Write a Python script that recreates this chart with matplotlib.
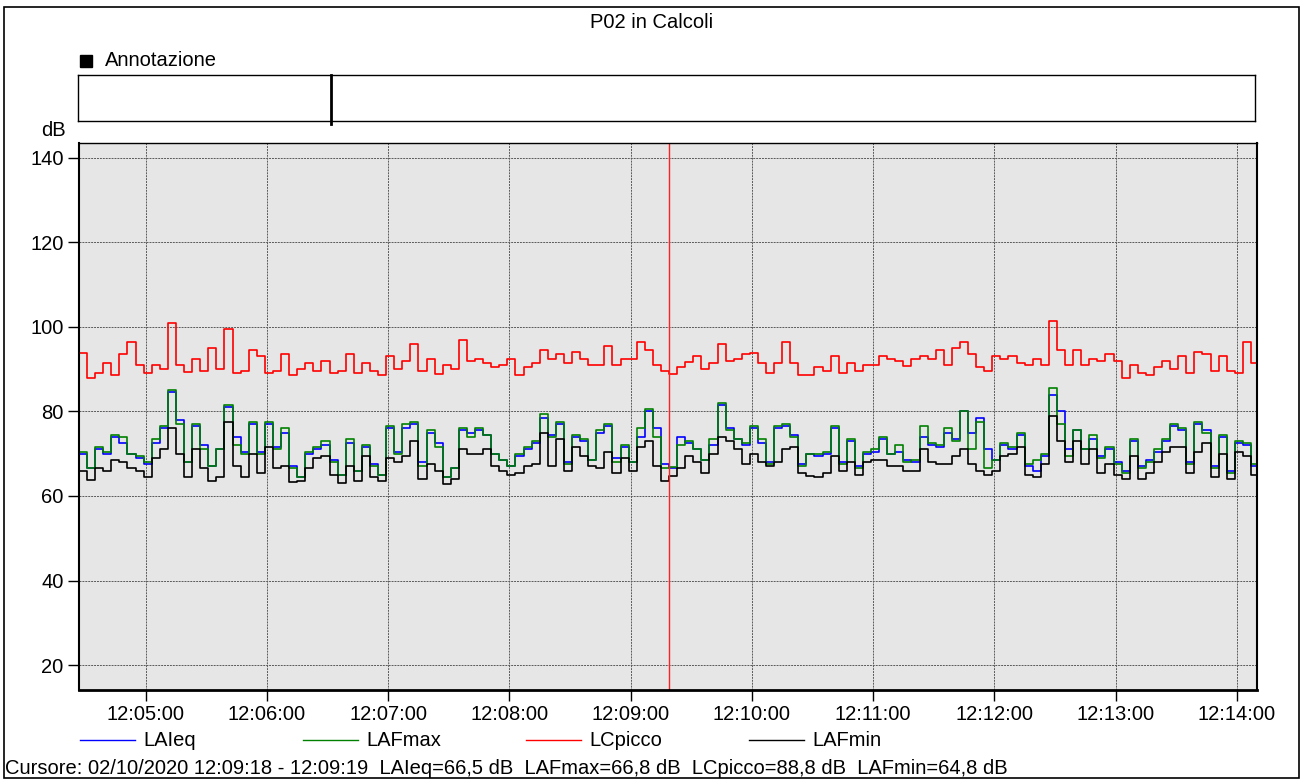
import numpy as np
import matplotlib
matplotlib.use('Agg')
from matplotlib import pyplot as plt
import matplotlib.dates as mdates
from matplotlib.lines import Line2D
from matplotlib.patches import Rectangle

plt.rcParams['font.family'] = ['Liberation Sans', 'DejaVu Sans']

# campioni ogni 4 s a partire da 12:04:27
start = np.datetime64('2020-10-02T12:04:27')
end = np.datetime64('2020-10-02T12:14:10')
cursor = np.datetime64('2020-10-02T12:09:19')
step_s = 4

lcpicco = [
    93.8, 88.0, 89.0, 91.5, 88.5, 93.5, 96.5, 91, 89.2, 91, 90, 101, 91, 89.3, 92.5, 89.5, 95, 90, 99.5, 89, 89.5, 94.5, 93, 89, 89.5,
    93.5, 88.5, 90, 91.5, 89.5, 92, 89, 89.5, 93.5, 89, 91.5, 89.5, 88.5, 93, 90, 92, 96, 89.5, 92.5, 88.8, 91, 90, 97, 92, 92.5,
    91.5, 90.5, 91, 92.5, 88.5, 90.5, 91.5, 94.5, 92.5, 93.5, 91.5, 94, 92.5, 91, 91, 95.5, 91, 92.5, 92.5, 96.5, 94.5, 91, 89.5, 88.8,
    90.5, 91.8, 93, 90, 91.5, 96, 92, 92.5, 93.5, 93.8, 91.5, 89, 91.5, 96.5, 91.5, 88.5, 88.5, 90.5, 89.5, 93, 89, 91.5, 89.5, 91,
    91, 93, 92.5, 92, 90.8, 92.5, 93, 92.5, 94.5, 91, 95, 96.5, 93.5, 90.5, 89.5, 93, 92.5, 93, 91.5, 91, 92.5, 91, 101.5, 94.5, 91,
    94.5, 91, 92.5, 92, 93.5, 92, 88, 91, 89, 88.5, 90.5, 92, 90, 93, 89, 94, 93.5, 89.5, 93, 89.5, 89, 96.5, 91.5,
]

lafmax = [
    70.5, 66.5, 71.5, 70.5, 74.5, 74, 70, 69.5, 68, 73.5, 76.5, 85, 77, 68, 77, 71, 67, 71, 81.5, 72, 70, 77.5, 70, 77.5, 71,
    76, 66.5, 64.5, 70.5, 71.5, 73, 68, 65, 73.5, 66, 72, 67, 65, 76.5, 70, 77, 77.5, 67, 75.5, 71.5, 64.5, 66.5, 76, 74, 76,
    74.5, 70, 68.5, 67, 70, 71.5, 73, 79.5, 74, 77.5, 67.5, 74.5, 73.5, 68.5, 75.5, 77, 68, 72, 68, 76, 80.5, 74, 66.5, 66.8,
    72, 73, 71, 68.5, 73.5, 82, 75.5, 73.5, 72.5, 76.5, 73.5, 67.5, 76.5, 77, 74, 67, 70, 70, 70.5, 76.5, 67.5, 73.5, 66.5, 70.5,
    71, 74, 70, 72, 68, 68.5, 76.5, 72.5, 72, 76, 73, 80, 71, 77.5, 66.5, 68.5, 72.5, 71.5, 75, 67.5, 68.5, 70, 85.5, 77, 69.5,
    75.5, 71, 74.5, 69, 71.5, 67.5, 65.5, 73.5, 66.5, 68, 71, 73.5, 77, 76, 67.5, 77.5, 75, 66.5, 74.5, 65.5, 73, 72.5, 67.5,
]

laieq = [
    70, 66.5, 71, 70, 74, 72.5, 70, 69, 67.5, 72.5, 76, 84.5, 78, 68, 76.5, 72, 67, 71, 81, 74, 70.5, 77, 70.5, 77, 71.5,
    75, 67, 64.5, 70, 71, 72, 68.5, 65, 72.5, 66, 71.5, 67.5, 65, 76, 70.5, 76, 77, 68, 75, 72.5, 64.5, 66.5, 75.5, 75, 75.5,
    74.5, 70, 68.5, 67, 69.5, 71, 72.5, 78.5, 74.5, 77, 68, 74, 73, 68.5, 75, 76.5, 69, 71.5, 68, 74, 80, 76, 67.5, 66.5,
    74, 72.5, 71, 68.5, 72, 81.5, 76, 73.5, 72, 76, 72.5, 68, 76, 76.5, 74.5, 67.5, 70, 69.5, 70, 76, 68, 73, 67, 70,
    70.5, 73.5, 70, 70.5, 68.5, 68, 74, 72, 71.5, 75, 73.5, 80, 75, 78.5, 71, 68.5, 72, 71, 74.5, 67, 66, 69.5, 84, 80, 71,
    75.5, 71, 73.5, 69.5, 71, 68, 66, 73, 67, 68.5, 70.5, 73, 76.5, 75.5, 68, 77, 75.5, 67, 74, 66, 72.5, 72, 67,
]

lafmin = [
    66, 63.8, 66.5, 66, 68.5, 68, 66.5, 66, 64.5, 69, 71, 76, 70, 64.5, 71, 66.5, 63.5, 64.5, 77.5, 67, 64.5, 70, 65.5, 71.5, 66.5,
    67, 63.3, 63.5, 66.5, 69, 69.5, 65, 63, 67, 63.5, 69.5, 64.5, 63.5, 69, 68, 69.5, 73, 64, 67.5, 66, 62.8, 64, 71, 70, 70,
    71, 67, 66, 65, 65.5, 67, 67.5, 75, 67, 73.5, 66, 71.5, 69.5, 67, 66.5, 70.5, 65.5, 69, 66, 71.5, 73, 67, 63.5, 64.8,
    66.5, 69.5, 68, 65.5, 70, 74, 73, 71, 67.5, 70, 68, 67, 68, 71, 71.5, 65.5, 64.8, 64.5, 65.5, 69.5, 66, 68, 65, 68,
    68.5, 68.5, 67, 67, 66, 66, 71, 68, 67.5, 67.5, 69.5, 71, 67.5, 66, 65, 66, 69.5, 70, 71.5, 65, 64.5, 67.5, 79, 73, 68,
    73, 67.5, 71, 65.5, 67.5, 65, 64, 69.5, 64, 65.5, 68, 70.5, 71.5, 71.5, 65.5, 70.5, 72.5, 64.5, 70, 64, 70.5, 69.5, 65,
]

series = [('LAIeq', laieq, '#0000ff'), ('LAFmax', lafmax, '#008000'),
          ('LCpicco', lcpicco, '#ff0000'), ('LAFmin', lafmin, '#000000')]

cursor_text = ('Cursore: 02/10/2020 12:09:18 - 12:09:19  LAIeq=66,5 dB  '
               'LAFmax=66,8 dB  LCpicco=88,8 dB  LAFmin=64,8 dB')

W, H = 1303, 780
fs = 14.5

fig = plt.figure(figsize=(W / 100, H / 100), dpi=100)

# cornice esterna
fig.add_artist(Rectangle((4 / W, 2 / H), 1295 / W, 771 / H, transform=fig.transFigure,
                         fill=False, edgecolor='black', lw=1.2))

fig.text(652 / W, 1 - 22 / H, 'P02 in Calcoli', ha='center', va='center', fontsize=fs)

# barra annotazioni
fig.add_artist(Rectangle((80 / W, 1 - 67 / H), 12 / W, 12 / H, transform=fig.transFigure,
                         facecolor='black', edgecolor='black'))
fig.text(105 / W, 1 - 61 / H, 'Annotazione', ha='left', va='center', fontsize=fs)
ax_ann = fig.add_axes([78 / W, 1 - 121 / H, (1255 - 78) / W, 46 / H])
ax_ann.set_xticks([])
ax_ann.set_yticks([])
for s in ax_ann.spines.values():
    s.set_linewidth(1)
ax_ann.plot([0.215, 0.215], [-0.07, 1], transform=ax_ann.transAxes, color='black', lw=2, clip_on=False)

# grafico principale
ax = fig.add_axes([79 / W, 1 - 690 / H, (1257 - 79) / W, (690 - 143) / H])
ax.set_facecolor('#e6e6e6')

n = len(laieq)
t = start + np.arange(n + 1) * np.timedelta64(step_s, 's')
t[-1] = end
for name, vals, col in series:
    v = np.append(vals, vals[-1])
    ax.step(t, v, where='post', color=col, lw=1.2)

ax.axvline(cursor, color='#ff2020', lw=1)

ax.set_xlim(start, end)
ax.set_ylim(14.1, 143.5)
ax.set_yticks(np.arange(20, 141, 20))
ax.xaxis.set_major_locator(mdates.MinuteLocator())
ax.xaxis.set_major_formatter(mdates.DateFormatter('%H:%M:%S'))
ax.tick_params(direction='out', length=8, width=1, labelsize=fs, pad=3)
ax.grid(True, color='#5a5a5a', linestyle=(0, (2, 1)), lw=0.7)
ax.spines['bottom'].set_linewidth(2)
ax.spines['left'].set_linewidth(1.5)
ax.spines['right'].set_linewidth(1.5)
ax.spines['top'].set_linewidth(1)

fig.text(66 / W, 1 - 131 / H, 'dB', ha='right', va='center', fontsize=fs)

# legenda
for i, (name, vals, col) in enumerate(series):
    x0 = 80 + 223 * i
    fig.add_artist(Line2D([x0 / W, (x0 + 55) / W], [1 - 740 / H, 1 - 740 / H],
                          transform=fig.transFigure, color=col, lw=1))
    fig.text((x0 + 63) / W, 1 - 740 / H, name, ha='left', va='center', fontsize=fs)

fig.text(5 / W, 1 - 768 / H, cursor_text, ha='left', va='center', fontsize=fs)

plt.savefig('out.png', dpi=100)
